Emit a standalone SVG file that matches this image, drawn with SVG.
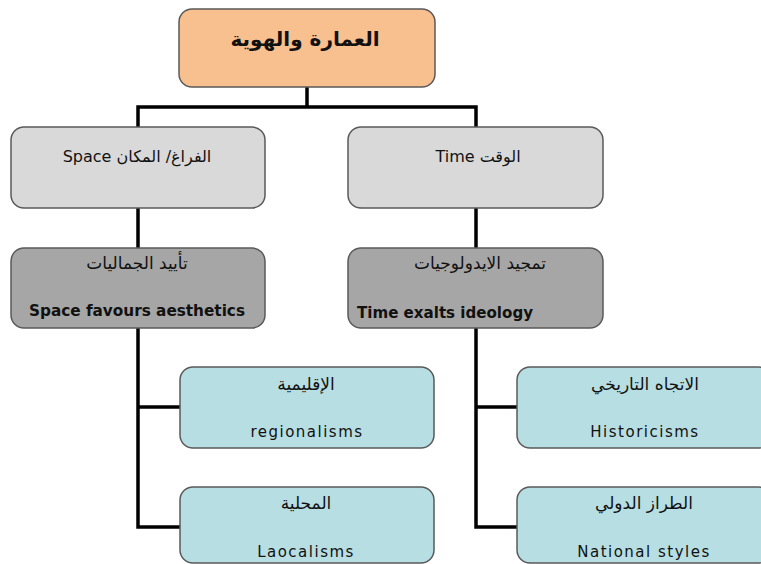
<svg xmlns="http://www.w3.org/2000/svg" width="761" height="564" viewBox="0 0 761 564">
<style>
.box{stroke:#5a5a5a;stroke-width:1.5}
.root{fill:#F9C08F}
.l1{fill:#D9D9D9}
.l2{fill:#A6A6A6}
.l3{fill:#B7DEE2}
text{font-family:"DejaVu Sans","Liberation Sans",sans-serif;fill:#111;font-size:15px}
.c{text-anchor:middle}
.b{font-weight:bold}
.ar{font-size:17px}
.en{letter-spacing:1.5px}
.t1{font-size:16px}
.tr{font-size:20px}
.eb{font-size:16px}
.conn{fill:none;stroke:#000;stroke-width:3.5}
</style>
<rect width="761" height="564" fill="#fff"/>
<g id="connectors">
<path class="conn" d="M307 87V107M138 107H476M138 105.3V127M476 105.3V127M138 208V248M476 208V248M138 328V527H180M138 407H180M476 328V527H517M476 407H517"/>
</g>
<g id="root">
<rect class="box root" x="179" y="9" width="256" height="78" rx="13"/>
<text class="c b tr" x="305" y="46" direction="rtl">العمارة والهوية</text>
</g>
<g id="space">
<rect class="box l1" x="11" y="127" width="254" height="81" rx="13"/>
<text class="c t1" x="137" y="162" direction="rtl">الفراغ/ المكان Space</text>
</g>
<g id="time">
<rect class="box l1" x="348" y="127" width="255" height="81" rx="13"/>
<text class="c t1" x="478" y="162" direction="rtl">الوقت Time</text>
</g>
<g id="aesthetics">
<rect class="box l2" x="11" y="248" width="254" height="80" rx="13"/>
<text class="c ar" x="137" y="269" direction="rtl">تأييد الجماليات</text>
<text class="c b eb" x="137" y="316" textLength="216" lengthAdjust="spacingAndGlyphs">Space favours aesthetics</text>
</g>
<g id="ideology">
<rect class="box l2" x="348" y="248" width="255" height="80" rx="13"/>
<text class="c ar" x="480" y="269" direction="rtl">تمجيد الايدولوجيات</text>
<text class="b eb" x="357" y="318" textLength="176" lengthAdjust="spacingAndGlyphs">Time exalts ideology</text>
</g>
<g id="regionalisms">
<rect class="box l3" x="180" y="367" width="254" height="81" rx="13"/>
<text class="c ar" x="306" y="390" direction="rtl">الإقليمية</text>
<text class="c en" x="307" y="437">regionalisms</text>
</g>
<g id="localisms">
<rect class="box l3" x="180" y="487" width="254" height="76" rx="13"/>
<text class="c ar" x="306" y="509" direction="rtl">المحلية</text>
<text class="c en" x="306" y="557">Laocalisms</text>
</g>
<g id="historicisms">
<rect class="box l3" x="517" y="367" width="254" height="81" rx="13"/>
<text class="c ar" x="645" y="390" direction="rtl">الاتجاه التاريخي</text>
<text class="c en" x="645" y="437">Historicisms</text>
</g>
<g id="national">
<rect class="box l3" x="517" y="487" width="254" height="76" rx="13"/>
<text class="c ar" x="644" y="509" direction="rtl">الطراز الدولي</text>
<text class="c en" x="644" y="557">National styles</text>
</g>
</svg>
